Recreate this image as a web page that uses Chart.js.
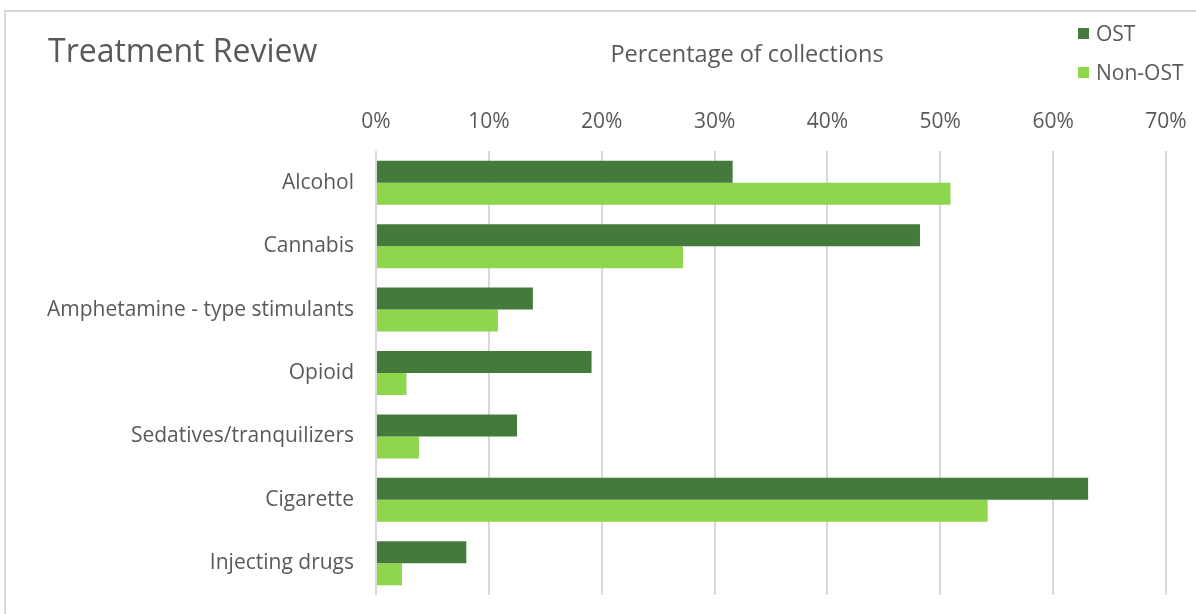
<!DOCTYPE html>
<html>
<head>
<meta charset="utf-8">
<title>Treatment Review</title>
<script src="https://cdn.jsdelivr.net/npm/chart.js@4.4.1/dist/chart.umd.min.js"></script>
<style>
  html, body { margin: 0; padding: 0; background: #fff; }
  #wrap { width: 1196px; height: 614px; }
</style>
</head>
<body>
<div id="wrap"><canvas id="chart" width="1196" height="614"></canvas></div>
<script>
// Drug use by treatment group, percent of collections
const categories = ['Alcohol', 'Cannabis', 'Amphetamine - type stimulants', 'Opioid', 'Sedatives/tranquilizers', 'Cigarette', 'Injecting drugs'];
const ostValues = [31.6, 48.2, 13.9, 19.1, 12.5, 63.1, 8.0];
const nonOstValues = [50.9, 27.2, 10.8, 2.7, 3.8, 54.2, 2.3];
const seriesNames = ['OST', 'Non-OST'];
const xTicks = [0, 10, 20, 30, 40, 50, 60, 70];

const TEXT = '#595959';
const FONT = "'Open Sans', sans-serif";
const GRID = '#d9d9d9';

// frame, headings and the stacked legend in the top-right corner
const decorations = {
    id: 'decorations',
    beforeDraw(chart) {
        const ctx = chart.ctx;
        ctx.save();
        ctx.fillStyle = '#fff';
        ctx.fillRect(0, 0, chart.width, chart.height);
        ctx.strokeStyle = GRID;
        ctx.lineWidth = 2;
        ctx.strokeRect(5, 11, 1300, 700);
        ctx.restore();
    },
    afterDraw(chart) {
        const ctx = chart.ctx;
        ctx.save();
        ctx.fillStyle = TEXT;
        ctx.textBaseline = 'alphabetic';

        ctx.font = `32px ${FONT}`;
        ctx.textAlign = 'left';
        ctx.fillText('Treatment Review', 48, 62);

        ctx.font = `23.5px ${FONT}`;
        ctx.textAlign = 'center';
        ctx.fillText('Percentage of collections', 747, 62);

        // legend
        ctx.font = `21px ${FONT}`;
        ctx.textAlign = 'left';
        ctx.textBaseline = 'middle';
        chart.data.datasets.forEach((ds, i) => {
            const cy = 34 + i * 39;
            ctx.fillStyle = ds.backgroundColor;
            ctx.fillRect(1078, cy - 6, 11, 11);
            ctx.fillStyle = TEXT;
            ctx.fillText(ds.label, 1096, cy + 1.5);
        });
        ctx.restore();
    }
};

new Chart(document.getElementById('chart'), {
    type: 'bar',
    data: {
        labels: categories,
        datasets: [
            { label: seriesNames[0], data: ostValues, backgroundColor: '#447a3b' },
            { label: seriesNames[1], data: nonOstValues, backgroundColor: '#8ed64c' }
        ]
    },
    options: {
        indexAxis: 'y',
        responsive: false,
        animation: false,
        devicePixelRatio: 1,
        layout: { padding: { left: 0, top: 0, right: 30, bottom: 19 } },
        datasets: { bar: { barPercentage: 1, categoryPercentage: 0.694, borderWidth: 0 } },
        plugins: { legend: { display: false }, tooltip: { enabled: false } },
        scales: {
            x: {
                position: 'top',
                min: 0,
                max: 70,
                afterBuildTicks: s => { s.ticks = xTicks.map(v => ({ value: v })); },
                afterFit: s => { s.height = 151; s.paddingLeft = 0; s.paddingRight = 0; },
                grid: { color: GRID, lineWidth: 2, drawTicks: false },
                border: { display: false },
                ticks: {
                    padding: 16,
                    color: TEXT,
                    font: { family: FONT, size: 21 },
                    callback: v => v + '%'
                }
            },
            y: {
                afterFit: s => { s.width = 376; s.paddingTop = 0; s.paddingBottom = 0; },
                grid: { display: false, drawTicks: false },
                border: { display: false },
                ticks: {
                    padding: 22,
                    color: TEXT,
                    font: { family: FONT, size: 21 }
                }
            }
        }
    },
    plugins: [decorations]
});
</script>
</body>
</html>
